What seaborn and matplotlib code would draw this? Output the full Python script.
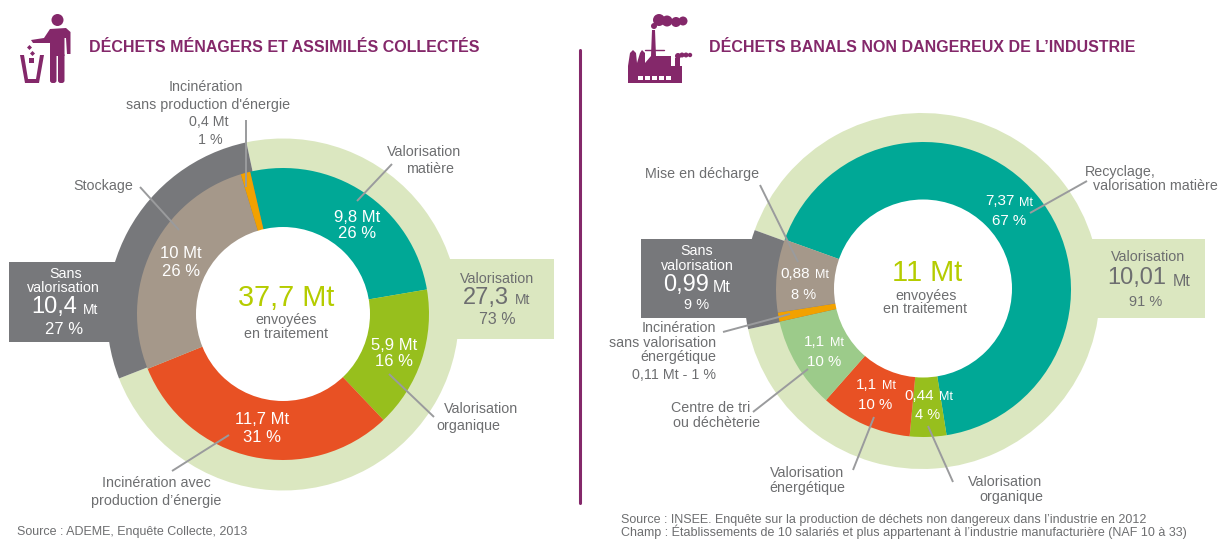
import matplotlib
matplotlib.use("Agg")
import matplotlib.pyplot as plt
import seaborn as sns
from matplotlib.patches import Circle, Polygon, Rectangle, FancyBboxPatch

# values in Mt, clockwise from the start angle
menages_labels = ["Valorisation matière", "Valorisation organique", "Incinération avec énergie", "Stockage", "Incinération sans énergie"]
menages_values = [9.8, 5.9, 11.7, 10, 0.4]
menages_groups = [27.3, 10.4]

industrie_labels = ["Recyclage", "Valorisation organique", "Valorisation énergétique", "Centre de tri", "Incinération", "Mise en décharge"]
industrie_values = [7.37, 0.44, 1.1, 1.1, 0.11, 0.88]
industrie_groups = [10.01, 0.99]

TEAL, LEAF, RED, TAUPE, ORANGE, PALE, GREY, SOFT = "#00A896", "#97BF1D", "#E85124", "#A5988A", "#F2A100", "#DBE7C0", "#77787B", "#9CCB8A"
PURPLE, TXT, OLIVE = "#84286A", "#6D6E70", "#B5CC00"

menages_colors = sns.color_palette([TEAL, LEAF, RED, TAUPE, ORANGE])
industrie_colors = sns.color_palette([TEAL, LEAF, RED, SOFT, ORANGE, TAUPE])
group_colors = sns.color_palette([PALE, GREY])

sns.set_theme(style="white")
plt.rcParams["font.family"] = ["Liberation Sans", "DejaVu Sans"]

fig = plt.figure(figsize=(12.2, 5.4), dpi=100)
ax = fig.add_axes([0, 0, 1, 1])
ax.set_xlim(0, 1220)
ax.set_ylim(0, 540)
ax.axis("off")


def Y(y):
    return 540 - y


def txt(x, y, s, size=10.3, color=TXT, ha="center", **kw):
    ax.text(x, Y(y), s, fontsize=size, color=color, ha=ha, va="center", zorder=6, **kw)


def white(x, y, s, size=12):
    txt(x, y, s, size=size, color="white")


def unit(x, y, size=9, color="white"):
    txt(x, y, "Mt", size=size, color=color, ha="left")


def leader(x0, y0, x1, y1):
    ax.plot([x0, x1], [Y(y0), Y(y1)], color="#9A9B9D", lw=1.4, zorder=5, solid_capstyle="butt")


def box(x0, y0, x1, y1, color):
    ax.add_patch(Rectangle((x0, Y(y1)), x1 - x0, y1 - y0, color=color, lw=0, zorder=1))


def ring(center, radius, values, colors, start, z):
    ax.pie(values, colors=colors, center=(center[0], Y(center[1])), radius=radius, startangle=start,
           counterclock=False, frame=True, wedgeprops=dict(lw=0, zorder=z))


box(9, 262, 130, 342, GREY)
box(440, 259, 554, 339, PALE)
box(641, 239, 770, 318, GREY)
box(1085, 239, 1205, 318, PALE)

ring((283, 314.5), 176, menages_groups, group_colors, 102, 2)
ring((283, 314), 146, menages_values, menages_colors, 103, 3)
ax.add_patch(Circle((283, Y(314)), 87, color="white", lw=0, zorder=4))

ring((922, 291), 178, industrie_groups, group_colors, 160, 2)
ring((923.5, 289.5), 147.5, industrie_values, industrie_colors, 160.2, 3)
ax.add_patch(Circle((923, Y(288.5)), 89, color="white", lw=0, zorder=4))

ax.set_xlim(0, 1220)
ax.set_ylim(0, 540)
ax.set_aspect("auto")

# divider and headers
ax.plot([580, 580], [Y(50), Y(503)], color=PURPLE, lw=2.2)
txt(89, 48, "DÉCHETS MÉNAGERS ET ASSIMILÉS COLLECTÉS", size=11.5, color=PURPLE, ha="left", fontweight="bold")
txt(709, 48, "DÉCHETS BANALS NON DANGEREUX DE L’INDUSTRIE", size=11.5, color=PURPLE, ha="left", fontweight="bold")

# person and bin icon
ax.add_patch(Circle((57.5, Y(20)), 6, color=PURPLE, lw=0))
ax.add_patch(FancyBboxPatch((50, Y(83)), 6.5, 30, boxstyle="round,pad=0,rounding_size=2.5", color=PURPLE, lw=0))
ax.add_patch(FancyBboxPatch((58, Y(83)), 6.5, 30, boxstyle="round,pad=0,rounding_size=2.5", color=PURPLE, lw=0))
ax.add_patch(Polygon([(50, Y(56)), (50, Y(43)), (33, Y(43)), (31, Y(40)), (44, Y(38)), (50, Y(29)), (66, Y(28)), (70.5, Y(32)), (70.5, Y(54)), (67, Y(54)), (66, Y(38)), (64.5, Y(38)), (64.5, Y(56))], color=PURPLE, lw=0))
ax.add_patch(Polygon([(20, Y(55)), (24, Y(55)), (28, Y(79)), (36, Y(79)), (40, Y(55)), (44, Y(55)), (39, Y(83)), (25, Y(83))], color=PURPLE, lw=0))
for dx, dy, r in [(29.5, 47.5, 2.5), (32.5, 53.5, 2.5)]:
    ax.add_patch(Polygon([(dx - r, Y(dy)), (dx, Y(dy - r)), (dx + r, Y(dy)), (dx, Y(dy + r))], color=PURPLE, lw=0))
ax.add_patch(Rectangle((29, Y(62.5)), 5, 4.5, color=PURPLE, lw=0))

# factory icon
ax.add_patch(Polygon([(628, Y(83)), (628, Y(66)), (630, Y(53)), (633, Y(50)), (636, Y(53)), (637, Y(63)), (640, Y(53)), (642, Y(50)), (645, Y(53)), (645, Y(63)), (651, Y(56)), (652, Y(30)), (655, Y(30)), (656, Y(56)), (671, Y(56)), (671, Y(66)), (675, Y(66)), (675, Y(58)), (680, Y(58)), (680, Y(66)), (682, Y(66)), (682, Y(83))], color=PURPLE, lw=0))
for sx, sy, sr in [(654, 26, 3), (659, 20, 6), (667, 21, 5.5), (676, 22, 5), (683, 21, 4.5)]:
    ax.add_patch(Circle((sx, Y(sy)), sr, color=PURPLE, lw=0))
for sx, sy, sr in [(678, 56, 3), (682, 55, 2.5), (686, 55, 2.5), (690, 55, 2.2)]:
    ax.add_patch(Circle((sx, Y(sy)), sr, color=PURPLE, lw=0))
for wx in range(638, 670, 7):
    ax.add_patch(Rectangle((wx, Y(80)), 4.5, 4.5, color="white", lw=0))
ax.plot([645, 664], [Y(50), Y(50)], color=PURPLE, lw=1)

# leader lines, left
leader(246, 120, 246, 187)
leader(140, 187, 179, 230)
leader(392, 164, 357, 201)
leader(389, 374, 434, 417)
leader(229, 435, 172, 471)

# leader lines, right
leader(760, 185, 798, 262)
leader(1087, 181, 1030, 213)
leader(723, 332, 790, 314)
leader(808, 369, 753, 412)
leader(874, 417, 853, 470)
leader(928, 426, 953, 482)

# left chart texts
txt(206, 87, "Incinération")
txt(208, 105, "sans production d'énergie")
txt(209, 122, "0,4 Mt")
txt(210, 140, "1 %")
txt(103, 186, "Stockage")
txt(424, 152, "Valorisation")
txt(430, 169, "matière")
white(357, 217, "9,8 Mt")
white(357, 234, "26 %")
white(394, 345, "5,9 Mt")
white(394, 362, "16 %")
white(262, 419, "11,7 Mt")
white(262, 437, "31 %")
white(181, 253, "10 Mt")
white(181, 271, "26 %")
txt(481, 409, "Valorisation")
txt(468, 426, "organique")
txt(156, 483, "Incinération avec")
txt(156, 501, "production d’énergie")
txt(66, 274, "Sans", color="white")
txt(63, 288, "valorisation", color="white")
white(54, 307, "10,4", size=17)
unit(83, 310, size=10)
white(64, 329, "27 %", size=12)
txt(497, 279, "Valorisation")
txt(463, 298, "27,3", size=17, ha="left")
unit(515, 300, size=10, color=TXT)
txt(497, 320, "73 %", size=11.5)
txt(286, 298, "37,7 Mt", size=20.8, color=OLIVE)
txt(286, 320, "envoyées")
txt(286, 334, "en traitement")

# right chart texts
txt(702, 174, "Mise en décharge")
txt(1120, 172, "Recyclage,")
txt(1155, 186, "valorisation matière")
white(1000, 201, "7,37", size=11)
unit(1019, 203)
white(1009, 221, "67 %", size=10.8)
white(795, 274, "0,88", size=11)
unit(815, 275)
white(804, 295, "8 %", size=10.5)
white(814, 342, "1,1", size=11)
unit(830, 343)
white(824, 362, "10 %", size=10.8)
white(866, 385, "1,1", size=11)
unit(882, 386)
white(875, 405, "10 %", size=10.8)
white(919, 396, "0,44", size=11)
unit(939, 397)
white(928, 415, "4 %", size=10.5)
txt(697, 251, "Sans", color="white")
txt(697, 266, "valorisation", color="white")
white(686, 285, "0,99", size=17)
unit(713, 288, size=11.5)
white(697, 305, "9 %", size=10.5)
txt(716, 328, "Incinération", ha="right")
txt(716, 343, "sans valorisation", ha="right")
txt(716, 357, "énergétique", ha="right")
txt(716, 375, "0,11 Mt - 1 %", ha="right")
txt(711, 408, "Centre de tri")
txt(717, 423, "ou déchèterie")
txt(807, 473, "Valorisation")
txt(807, 488, "énergétique")
txt(1005, 482, "Valorisation")
txt(1011, 497, "organique")
txt(1148, 257, "Valorisation")
txt(1137, 278, "10,01", size=17)
unit(1173, 282, size=11.5, color=TXT)
txt(1146, 302, "91 %", size=10.5)
txt(927, 273, "11 Mt", size=20.8, color=OLIVE)
txt(926, 296, "envoyées")
txt(925, 309, "en traitement")

# sources
txt(17, 532, "Source : ADEME, Enquête Collecte, 2013", size=9, ha="left")
txt(621, 520, "Source : INSEE. Enquête sur la production de déchets non dangereux dans l’industrie en 2012", size=9, ha="left")
txt(621, 532, "Champ : Établissements de 10 salariés et plus appartenant à l’industrie manufacturière (NAF 10 à 33)", size=9, ha="left")

fig.savefig("out.png", dpi=100)
